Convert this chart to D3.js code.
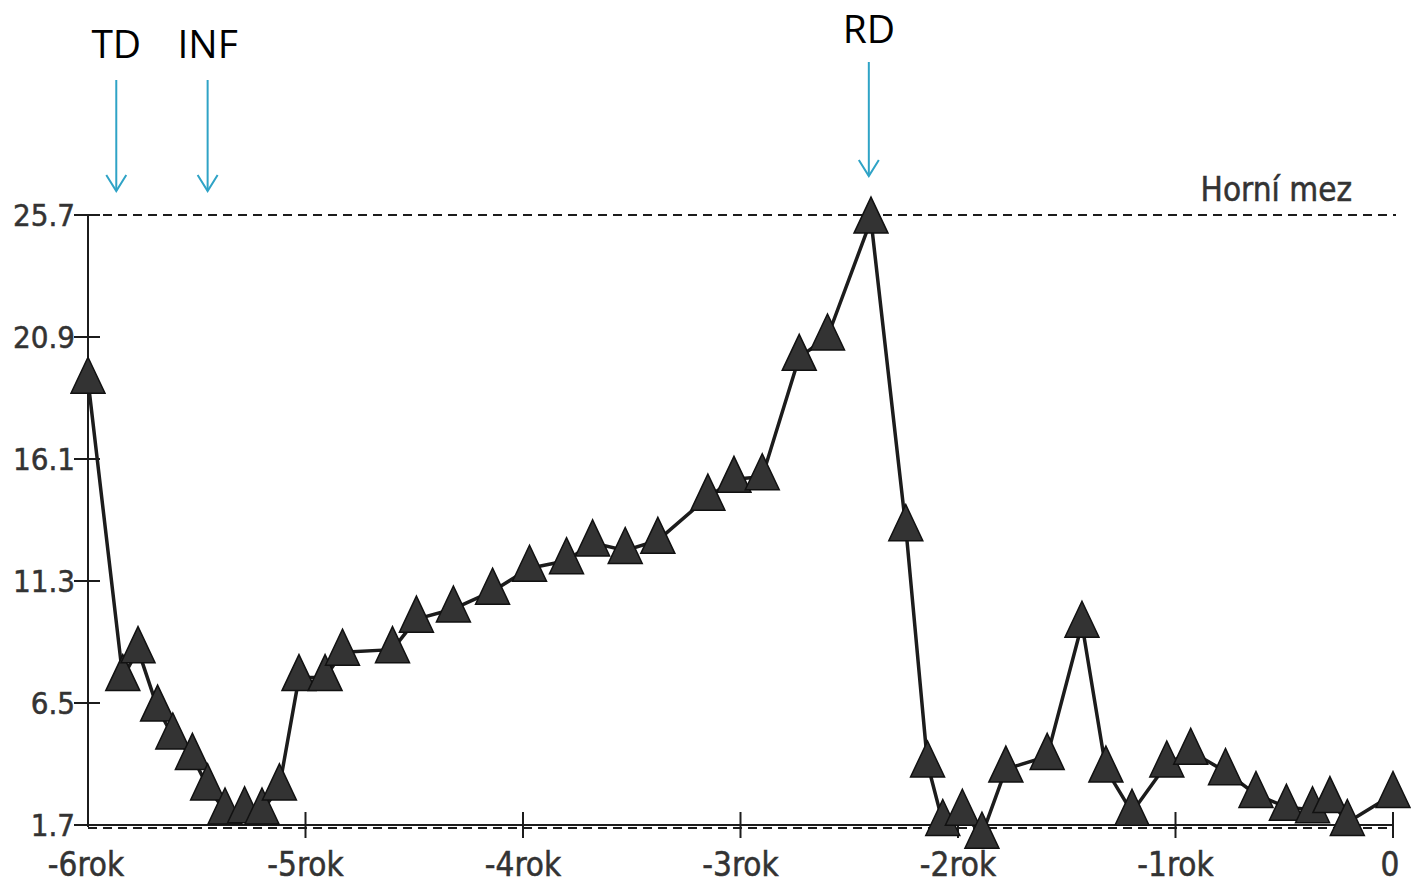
<!DOCTYPE html>
<html>
<head>
<meta charset="utf-8">
<script src="https://cdn.jsdelivr.net/npm/d3@7"></script>
<style>
  html, body { margin: 0; padding: 0; background: #fff; }
  svg { display: block; }
</style>
</head>
<body>
<div id="chart"></div>
<script>
// ─── Data (years relative to today, measured value) ───
const years = [
  -6.00, -5.84, -5.77, -5.68, -5.61, -5.52, -5.45, -5.37, -5.28, -5.20,
  -5.12, -5.03, -4.91, -4.83, -4.60, -4.49, -4.32, -4.14, -3.97, -3.80,
  -3.68, -3.53, -3.38, -3.15, -3.03, -2.90, -2.73, -2.60, -2.40, -2.24,
  -2.14, -2.07, -1.98, -1.89, -1.78, -1.59, -1.43, -1.32, -1.20, -1.04,
  -0.93, -0.77, -0.63, -0.49, -0.37, -0.29, -0.21, 0.00,
];
const values = [
  19.2, 7.5, 8.6, 6.3, 5.2, 4.4, 3.2, 2.25, 2.3, 2.25,
  3.2, 7.5, 7.5, 8.5, 8.6, 9.8, 10.2, 10.9, 11.8, 12.1,
  12.8, 12.5, 12.9, 14.6, 15.3, 15.4, 20.1, 20.9, 25.5, 13.4,
  4.1, 1.8, 2.2, 1.3, 3.9, 4.4, 9.6, 3.9, 2.2, 4.1,
  4.6, 3.8, 2.9, 2.4, 2.3, 2.7, 1.8, 2.9,
];

const yTicks = [1.7, 6.5, 11.3, 16.1, 20.9, 25.7];
const xTicks = [-6, -5, -4, -3, -2, -1, 0];
const xTickLabels = ["-6rok", "-5rok", "-4rok", "-3rok", "-2rok", "-1rok", "0"];

const upperLimit = 25.7;
const upperLimitLabel = "Horní mez";
const lowerLimit = 1.7;

const markerNames = ["TD", "INF", "RD"];
const markerYears = [-5.87, -5.45, -2.41];

// ─── Layout ───
const width = 1413;
const height = 894;
const x = d3.scaleLinear().domain([-6, 0]).range([88, 1393]);
const y = d3.scaleLinear().domain([1.7, 25.7]).range([825, 215]);

const axisFont = "'Liberation Sans Narrow', 'DejaVu Sans Condensed', 'Roboto', sans-serif";
const annoFont = "'Open Sans', 'Noto Sans', sans-serif";
const ink = "#1c1c1c";
const arrowColor = "#2fa3c6";

const svg = d3
  .select("#chart")
  .append("svg")
  .attr("width", width)
  .attr("height", height);

// ── Upper limit (dashed) ──
svg.append("line")
  .attr("x1", x(-6)).attr("x2", x(0) + 3)
  .attr("y1", y(upperLimit)).attr("y2", y(upperLimit))
  .attr("stroke", ink)
  .attr("stroke-width", 2)
  .attr("stroke-dasharray", "9,6");

svg.append("text")
  .attr("x", 1352)
  .attr("y", 201)
  .attr("text-anchor", "end")
  .style("font-family", axisFont)
  .style("font-size", "33px")
  .style("fill", "#333")
  .style("stroke", "#333")
  .style("stroke-width", 0.5)
  .text(upperLimitLabel);

// ── Lower limit (dashed, sits along the x axis) ──
svg.append("line")
  .attr("x1", x(-6)).attr("x2", x(0))
  .attr("y1", y(lowerLimit) + 3).attr("y2", y(lowerLimit) + 3)
  .attr("stroke", ink)
  .attr("stroke-width", 2)
  .attr("stroke-dasharray", "9,6");

// ── Axes ──
const axes = svg.append("g").attr("stroke", ink).attr("stroke-width", 2);

axes.append("line")
  .attr("x1", x(-6)).attr("x2", x(-6))
  .attr("y1", y(25.7)).attr("y2", y(1.7) + 2);

axes.append("line")
  .attr("x1", x(-6)).attr("x2", x(0))
  .attr("y1", y(1.7)).attr("y2", y(1.7));

axes.selectAll("line.ytick")
  .data(yTicks)
  .join("line")
  .attr("class", "ytick")
  .attr("x1", x(-6) - 14).attr("x2", x(-6) + 12)
  .attr("y1", (d) => y(d)).attr("y2", (d) => y(d));

axes.selectAll("line.xtick")
  .data(xTicks.slice(1))
  .join("line")
  .attr("class", "xtick")
  .attr("x1", (d) => x(d)).attr("x2", (d) => x(d))
  .attr("y1", y(1.7) - 13)
  .attr("y2", y(1.7) + 13);

svg.selectAll("text.ylab")
  .data(yTicks)
  .join("text")
  .attr("class", "ylab")
  .attr("x", 75)
  .attr("y", (d) => y(d) + 11)
  .attr("text-anchor", "end")
  .style("font-family", axisFont)
  .style("font-size", "31px")
  .style("fill", "#333")
  .style("stroke", "#333")
  .style("stroke-width", 0.5)
  .text((d) => d.toFixed(1));

svg.selectAll("text.xlab")
  .data(xTicks)
  .join("text")
  .attr("class", "xlab")
  .attr("x", (d, i) => x(d) + (i === 0 ? -2 : i === xTicks.length - 1 ? -3 : 0))
  .attr("y", 876)
  .attr("text-anchor", "middle")
  .style("font-family", axisFont)
  .style("font-size", "33px")
  .style("fill", "#333")
  .style("stroke", "#333")
  .style("stroke-width", 0.5)
  .text((d, i) => xTickLabels[i]);

// ── Series ──
const points = years.map((t, i) => ({ t, v: values[i] }));

svg.append("path")
  .datum(points)
  .attr("fill", "none")
  .attr("stroke", ink)
  .attr("stroke-width", 3.5)
  .attr("stroke-linejoin", "round")
  .attr("d", d3.line().x((d) => x(d.t)).y((d) => y(d.v)));

const tri = "M0,-23 L17,13 L-17,13 Z";
svg.selectAll("path.marker")
  .data(points)
  .join("path")
  .attr("class", "marker")
  .attr("transform", (d) => `translate(${x(d.t)},${y(d.v)})`)
  .attr("d", tri)
  .attr("fill", "#333")
  .attr("stroke", "#111")
  .attr("stroke-width", 1.5);

// ── Annotation arrows ──
const anno = svg.append("g");
markerNames.forEach((name, i) => {
  const ax = x(markerYears[i]);
  const isRD = name === "RD";
  const top = isRD ? 62 : 80;
  const tip = isRD ? 176 : 191;
  anno.append("text")
    .attr("x", ax)
    .attr("y", isRD ? 43 : 58)
    .attr("text-anchor", "middle")
    .style("font-family", annoFont)
    .style("font-size", "39px")
    .style("fill", "#000")
    .text(name);
  anno.append("line")
    .attr("x1", ax).attr("x2", ax)
    .attr("y1", top).attr("y2", tip)
    .attr("stroke", arrowColor)
    .attr("stroke-width", 2);
  anno.append("path")
    .attr("d", `M${ax - 10},${tip - 16} L${ax},${tip} L${ax + 10},${tip - 16}`)
    .attr("fill", "none")
    .attr("stroke", arrowColor)
    .attr("stroke-width", 2);
});
</script>
</body>
</html>
